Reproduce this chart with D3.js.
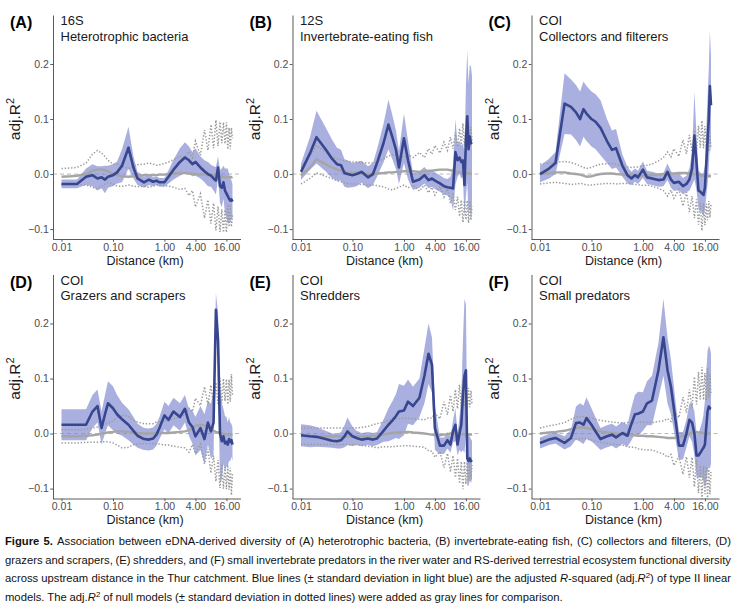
<!DOCTYPE html>
<html lang="en">
<head>
<meta charset="UTF-8">
<title>Figure 5</title>
<script src="https://d3js.org/d3.v7.min.js"></script>
<style>
  body { margin: 0; background: #fff; }
  svg { display: block; }
</style>
</head>
<body>
<script>
// upstream distance (km), shared by all six panels
var distance = [0.01, 0.015, 0.02, 0.03, 0.04, 0.05, 0.06, 0.07, 0.08,
  0.1, 0.12, 0.15, 0.2, 0.25, 0.3,
  0.4, 0.5, 0.6, 0.7, 0.8,
  1.0, 1.2, 1.5, 2, 2.5,
  3, 3.5, 4,
  5, 6, 7, 8, 9, 10, 11, 12, 13, 14, 15, 16, 17, 18, 19, 20, 21];

// (A) 16S heterotrophic bacteria
var meanA = [-0.018, -0.018, -0.018, -0.005, -0.002, -0.008, -0.006, -0.010, -0.005,
  -0.002, 0.003, 0.015, 0.048, 0.012, -0.008,
  -0.015, -0.010, -0.014, -0.012, -0.015,
  -0.015, -0.005, 0.008, 0.022, 0.030,
  0.025, 0.018, 0.022,
  0.012, 0.005, 0.000, -0.003, -0.008, -0.012, 0.012, -0.022, -0.025, -0.015, -0.030, -0.035, -0.040, -0.045, -0.048, -0.046, -0.050];
var sdA = [0.008, 0.008, 0.008, 0.015, 0.02, 0.022, 0.02, 0.025, 0.02,
  0.02, 0.02, 0.03, 0.038, 0.02, 0.012,
  0.01, 0.01, 0.008, 0.008, 0.008,
  0.008, 0.012, 0.018, 0.025, 0.028,
  0.025, 0.022, 0.025,
  0.02, 0.02, 0.022, 0.02, 0.022, 0.025, 0.02, 0.03, 0.035, 0.03, 0.04, 0.045, 0.05, 0.045, 0.04, 0.035, 0.03];
var nullA = [-0.005, -0.004, -0.003, 0.0, 0.006, 0.008, 0.008, 0.007, 0.005,
  0.0, -0.002, -0.004, -0.005, -0.004, -0.003,
  -0.002, -0.002, -0.002, -0.002, -0.001,
  -0.001, 0.0, 0.001, 0.002, 0.002,
  0.001, 0.0, 0.0,
  -0.001, 0.0, -0.002, 0.0, -0.003, -0.002, -0.004, -0.005, -0.004, -0.006, -0.005, -0.006, -0.005, -0.006, -0.005, -0.006, -0.005];
var nullSdA = [0.015, 0.015, 0.015, 0.02, 0.03, 0.035, 0.03, 0.025, 0.02,
  0.018, 0.02, 0.018, 0.015, 0.018, 0.02,
  0.02, 0.022, 0.02, 0.018, 0.018,
  0.02, 0.022, 0.025, 0.03, 0.028,
  0.04, 0.03, 0.06,
  0.035, 0.08, 0.045, 0.09, 0.05, 0.1, 0.055, 0.1, 0.06, 0.1, 0.06, 0.1, 0.05, 0.09, 0.05, 0.09, 0.07];

// (B) 12S invertebrate-eating fish
var meanB = [0.004, 0.038, 0.067, 0.045, 0.028, 0.018, 0.016, 0.002, 0.0,
  -0.002, 0.0, 0.004, -0.006, 0.0, 0.02,
  0.056, 0.09, 0.066, 0.044, 0.012,
  0.065, 0.025, -0.014, -0.01, -0.002,
  -0.011, -0.008, -0.012,
  -0.017, -0.022, -0.024, -0.025, -0.026, 0.04, 0.025, 0.03, 0.022, 0.025, -0.02, 0.06, 0.105, 0.045, 0.068, 0.056, 0.058];
var sdB = [0.015, 0.03, 0.048, 0.04, 0.035, 0.03, 0.028, 0.025, 0.025,
  0.022, 0.022, 0.02, 0.02, 0.02, 0.025,
  0.035, 0.045, 0.04, 0.035, 0.03,
  0.045, 0.035, 0.015, 0.015, 0.015,
  0.015, 0.015, 0.015,
  0.015, 0.015, 0.015, 0.02, 0.04, 0.06, 0.03, 0.03, 0.03, 0.03, 0.06, 0.1, 0.12, 0.12, 0.13, 0.14, 0.12];
var nullB = [-0.003, 0.012, 0.027, 0.018, 0.012, 0.008, 0.006, 0.004, 0.003,
  0.002, 0.002, 0.001, 0.0, 0.0, 0.001,
  0.002, 0.003, 0.003, 0.004, 0.004,
  0.005, 0.005, 0.005, 0.004, 0.005,
  0.006, 0.006, 0.007,
  0.008, 0.008, 0.008, 0.007, 0.006, 0.005, 0.004, 0.003, 0.003, 0.002, 0.002, 0.002, 0.002, 0.001, 0.001, 0.001, 0.001];
var nullSdB = [0.015, 0.02, 0.025, 0.022, 0.02, 0.02, 0.02, 0.02, 0.02,
  0.02, 0.02, 0.02, 0.02, 0.02, 0.022,
  0.025, 0.03, 0.032, 0.03, 0.028,
  0.025, 0.03, 0.025, 0.035, 0.025,
  0.04, 0.03, 0.045,
  0.03, 0.05, 0.035, 0.06, 0.04, 0.07, 0.045, 0.08, 0.05, 0.09, 0.05, 0.085, 0.05, 0.09, 0.05, 0.085, 0.06];

// (C) COI collectors and filterers
var meanC = [0.0, 0.01, 0.02, 0.128, 0.122, 0.112, 0.1, 0.118, 0.11,
  0.1, 0.095, 0.084, 0.06, 0.044, 0.047,
  0.015, -0.002, -0.008, -0.002, -0.006,
  0.008, -0.006, -0.008, -0.011, -0.01,
  0.004, -0.01, -0.016,
  -0.014, -0.022, -0.018, -0.01, 0.01, 0.07, 0.02, -0.03, -0.032, -0.035, -0.038, -0.025, 0.02, 0.06, 0.1, 0.16, 0.125];
var sdC = [0.015, 0.018, 0.02, 0.055, 0.05, 0.05, 0.05, 0.05, 0.05,
  0.05, 0.05, 0.05, 0.04, 0.035, 0.035,
  0.02, 0.015, 0.012, 0.012, 0.012,
  0.015, 0.012, 0.012, 0.012, 0.012,
  0.015, 0.015, 0.015,
  0.015, 0.015, 0.015, 0.02, 0.03, 0.08, 0.05, 0.035, 0.035, 0.035, 0.04, 0.04, 0.06, 0.08, 0.09, 0.1, 0.09];
var nullC = [0.0, 0.002, 0.003, 0.003, 0.001, 0.0, -0.001, -0.003, -0.005,
  -0.004, -0.002, 0.0, 0.001, 0.001, 0.0,
  -0.001, -0.002, -0.003, -0.003, -0.003,
  -0.003, -0.002, -0.002, -0.001, 0.0,
  0.0, 0.001, 0.001,
  0.002, 0.002, 0.002, 0.001, 0.0, 0.0, -0.001, -0.002, -0.002, -0.003, -0.003, -0.003, -0.004, -0.004, -0.004, -0.004, -0.004];
var nullSdC = [0.018, 0.018, 0.018, 0.02, 0.02, 0.018, 0.016, 0.015, 0.015,
  0.016, 0.017, 0.018, 0.018, 0.018, 0.018,
  0.016, 0.015, 0.015, 0.016, 0.016,
  0.018, 0.018, 0.02, 0.025, 0.03,
  0.04, 0.03, 0.045,
  0.03, 0.06, 0.035, 0.07, 0.04, 0.08, 0.045, 0.09, 0.05, 0.1, 0.05, 0.09, 0.05, 0.08, 0.045, 0.075, 0.05];

// (D) COI grazers and scrapers
var meanD = [0.016, 0.016, 0.016, 0.016, 0.04, 0.05, 0.01, 0.035, 0.055,
  0.046, 0.035, 0.026, 0.016, 0.005, -0.004,
  -0.01, -0.011, -0.009, -0.002, 0.01,
  0.033, 0.025, 0.04, 0.03, 0.045,
  0.02, 0.012, -0.005,
  0.01, -0.01, 0.02, 0.004, 0.02, 0.225, 0.17, 0.0, -0.014, -0.005, -0.018, -0.015, -0.02, -0.01, -0.015, -0.012, -0.02];
var sdD = [0.028, 0.028, 0.028, 0.028, 0.03, 0.03, 0.03, 0.035, 0.04,
  0.04, 0.035, 0.03, 0.028, 0.025, 0.022,
  0.02, 0.02, 0.02, 0.02, 0.02,
  0.025, 0.025, 0.025, 0.025, 0.025,
  0.025, 0.03, 0.035,
  0.04, 0.045, 0.04, 0.05, 0.06, 0.03, 0.05, 0.09, 0.07, 0.05, 0.05, 0.045, 0.04, 0.04, 0.035, 0.03, 0.03];
var nullD = [-0.005, -0.005, -0.005, -0.004, -0.003, -0.002, 0.0, 0.001, 0.002,
  0.003, 0.004, 0.004, 0.003, 0.002, 0.001,
  0.0, 0.0, 0.0, 0.001, 0.001,
  0.001, 0.001, 0.002, 0.003, 0.004,
  0.006, 0.01, 0.014,
  0.016, 0.015, 0.012, 0.008, 0.005, 0.003, 0.002, 0.001, 0.0, 0.0, -0.001, -0.001, -0.002, -0.002, -0.002, -0.002, -0.002];
var nullSdD = [0.012, 0.012, 0.012, 0.012, 0.013, 0.014, 0.015, 0.016, 0.017,
  0.02, 0.025, 0.03, 0.028, 0.022, 0.02,
  0.018, 0.018, 0.018, 0.02, 0.02,
  0.022, 0.022, 0.025, 0.028, 0.03,
  0.04, 0.03, 0.05,
  0.035, 0.07, 0.04, 0.08, 0.045, 0.09, 0.05, 0.1, 0.055, 0.1, 0.06, 0.1, 0.055, 0.1, 0.06, 0.11, 0.07];

// (E) COI shredders
var meanE = [-0.003, -0.005, -0.006, -0.01, -0.013, -0.014, -0.012, -0.005, 0.004,
  -0.005, -0.008, -0.011, -0.009, -0.011, -0.009,
  0.005, 0.016, 0.024, 0.032, 0.04,
  0.042, 0.058, 0.05, 0.065, 0.105,
  0.145, 0.125, 0.01,
  -0.022, -0.022, -0.012, -0.02, 0.004, 0.016, -0.02, 0.0, 0.016, 0.07, 0.105, 0.115, -0.045, -0.05, -0.045, -0.05, -0.048];
var sdE = [0.02, 0.02, 0.018, 0.015, 0.013, 0.013, 0.015, 0.02, 0.025,
  0.018, 0.013, 0.012, 0.012, 0.012, 0.012,
  0.02, 0.03, 0.035, 0.04, 0.05,
  0.045, 0.04, 0.035, 0.035, 0.05,
  0.055, 0.05, 0.04,
  0.015, 0.015, 0.015, 0.015, 0.02, 0.03, 0.02, 0.03, 0.05, 0.1, 0.14, 0.12, 0.05, 0.045, 0.04, 0.04, 0.035];
var nullE = [-0.005, -0.005, -0.005, -0.005, -0.005, -0.005, -0.005, -0.005, -0.005,
  -0.005, -0.005, -0.005, -0.005, -0.004, -0.004,
  -0.002, 0.0, 0.001, 0.002, 0.002,
  0.003, 0.003, 0.002, 0.001, 0.0,
  -0.001, -0.002, -0.003,
  -0.003, -0.002, -0.001, 0.0, 0.0, 0.0, 0.0, -0.001, -0.001, -0.001, -0.001, -0.002, -0.002, -0.002, -0.002, -0.002, -0.002];
var nullSdE = [0.015, 0.015, 0.015, 0.015, 0.015, 0.015, 0.015, 0.015, 0.015,
  0.015, 0.015, 0.016, 0.018, 0.02, 0.022,
  0.022, 0.024, 0.025, 0.025, 0.025,
  0.025, 0.025, 0.025, 0.025, 0.025,
  0.03, 0.03, 0.04,
  0.03, 0.06, 0.035, 0.07, 0.04, 0.08, 0.045, 0.09, 0.05, 0.1, 0.05, 0.09, 0.05, 0.085, 0.05, 0.08, 0.055];

// (F) COI small predators
var meanF = [-0.017, -0.011, -0.008, -0.017, -0.008, 0.019, 0.02, 0.016, 0.028,
  0.016, 0.004, -0.01, -0.005, -0.002, -0.007,
  0.001, -0.004, 0.018, 0.035, 0.036,
  0.04, 0.055, 0.06, 0.115, 0.175,
  0.115, 0.085, 0.045,
  -0.022, -0.022, 0.0, 0.025, 0.02, 0.0, -0.04, -0.04, -0.035, -0.03, -0.026, -0.02, 0.012, 0.04, 0.049, 0.046, 0.045];
var sdF = [0.01, 0.01, 0.01, 0.012, 0.015, 0.03, 0.035, 0.035, 0.038,
  0.03, 0.025, 0.02, 0.02, 0.02, 0.02,
  0.02, 0.02, 0.03, 0.035, 0.04,
  0.035, 0.04, 0.045, 0.05, 0.07,
  0.06, 0.05, 0.04,
  0.025, 0.025, 0.025, 0.03, 0.035, 0.04, 0.04, 0.04, 0.045, 0.05, 0.06, 0.08, 0.1, 0.11, 0.11, 0.11, 0.1];
var nullF = [0.0, 0.002, 0.003, 0.005, 0.008, 0.01, 0.011, 0.011, 0.01,
  0.008, 0.006, 0.004, 0.002, 0.001, 0.0,
  -0.001, -0.002, -0.003, -0.003, -0.004,
  -0.004, -0.005, -0.005, -0.006, -0.007,
  -0.008, -0.008, -0.008,
  -0.006, -0.004, -0.002, 0.0, 0.002, 0.003, 0.003, 0.002, 0.002, 0.001, 0.001, 0.0, 0.0, 0.0, 0.0, 0.0, 0.0];
var nullSdF = [0.01, 0.012, 0.013, 0.015, 0.018, 0.02, 0.02, 0.02, 0.02,
  0.02, 0.02, 0.02, 0.02, 0.02, 0.02,
  0.02, 0.022, 0.022, 0.022, 0.024,
  0.025, 0.025, 0.025, 0.028, 0.03,
  0.035, 0.03, 0.05,
  0.035, 0.07, 0.04, 0.08, 0.045, 0.1, 0.05, 0.11, 0.06, 0.12, 0.06, 0.11, 0.06, 0.12, 0.065, 0.11, 0.07];

// panel labels
var panelTags = ["(A)", "(B)", "(C)", "(D)", "(E)", "(F)"];
var markers = ["16S", "12S", "COI", "COI", "COI", "COI"];
var groups = ["Heterotrophic bacteria", "Invertebrate-eating fish", "Collectors and filterers",
  "Grazers and scrapers", "Shredders", "Small predators"];

// axis ticks
var xTicks = [0.01, 0.1, 1, 4, 16];
var yTicks = [-0.1, 0, 0.1, 0.2];

// caption (** bold, _ italic, ^ superscript)
var captionLines = [
  "**Figure 5.** Association between eDNA-derived diversity of (A) heterotrophic bacteria, (B) invertebrate-eating fish, (C) collectors and filterers, (D)",
  "grazers and scrapers, (E) shredders, and (F) small invertebrate predators in the river water and RS-derived terrestrial ecosystem functional diversity",
  "across upstream distance in the Thur catchment. Blue lines (\u00b1 standard deviation in light blue) are the adjusted _R_-squared (adj._R_^2) of type II linear",
  "models. The adj._R_^2 of null models (\u00b1 standard deviation in dotted lines) were added as gray lines for comparison."
];

var panels = [
  { mean: meanA, sd: sdA, nul: nullA, nsd: nullSdA },
  { mean: meanB, sd: sdB, nul: nullB, nsd: nullSdB },
  { mean: meanC, sd: sdC, nul: nullC, nsd: nullSdC },
  { mean: meanD, sd: sdD, nul: nullD, nsd: nullSdD },
  { mean: meanE, sd: sdE, nul: nullE, nsd: nullSdE },
  { mean: meanF, sd: sdF, nul: nullF, nsd: nullSdF }
];

// layout
var width = 737, height = 612;
var colX = [53, 292.5, 531.5];
var rowTop = [15, 274.5];
var plotW = 188, plotH = 224;
var font = "'Liberation Sans', Arial, sans-serif";

var svg = d3.select("body").append("svg")
    .attr("width", width)
    .attr("height", height);

svg.append("defs").append("clipPath").attr("id", "clip")
  .append("rect").attr("width", plotW).attr("height", plotH);

var x = d3.scaleLog().domain([0.01, 21]).range([8.5, 179.5]);
var y = d3.scaleLinear().domain([-0.118, 0.289]).range([plotH, 0]);

var area = d3.area()
    .x(function(d) { return x(d.km); })
    .y0(function(d) { return y(d.m - d.sd); })
    .y1(function(d) { return y(d.m + d.sd); });
var line = function(acc) {
  return d3.line().x(function(d) { return x(d.km); }).y(function(d) { return y(acc(d)); });
};

panels.forEach(function(p, i) {
  var col = i % 3, row = Math.floor(i / 3);
  var g = svg.append("g")
      .attr("transform", "translate(" + colX[col] + "," + rowTop[row] + ")");

  var rows = distance.map(function(km, j) {
    return { km: km, m: p.mean[j], sd: p.sd[j], n: p.nul[j], nsd: p.nsd[j] };
  });

  // zero reference
  g.append("line")
      .attr("x1", 0).attr("x2", plotW)
      .attr("y1", y(0)).attr("y2", y(0))
      .attr("stroke", "#b8b8b8")
      .attr("stroke-dasharray", "4,3");

  var plot = g.append("g").attr("clip-path", "url(#clip)");

  plot.append("path").datum(rows)
      .attr("d", area)
      .attr("fill", "#7c87cf")
      .attr("fill-opacity", 0.66);

  [function(d) { return d.n + d.nsd; }, function(d) { return d.n - d.nsd; }].forEach(function(acc) {
    plot.append("path").datum(rows)
        .attr("d", line(acc))
        .attr("fill", "none")
        .attr("stroke", "#9c9c9c")
        .attr("stroke-width", 1.5)
        .attr("stroke-dasharray", "1.4,1.8");
  });

  plot.append("path").datum(rows)
      .attr("d", line(function(d) { return d.n; }))
      .attr("fill", "none")
      .attr("stroke", "#a5a5a5")
      .attr("stroke-width", 2.4);

  plot.append("path").datum(rows)
      .attr("d", line(function(d) { return d.m; }))
      .attr("fill", "none")
      .attr("stroke", "#38468f")
      .attr("stroke-width", 2.6)
      .attr("stroke-linejoin", "round");

  // axes
  var yAxis = g.append("g")
      .call(d3.axisLeft(y).tickValues(yTicks).tickFormat(d3.format(".1f"))
        .tickSize(2.75).tickSizeOuter(0).tickPadding(1.5));
  var xAxis = g.append("g")
      .attr("transform", "translate(0," + plotH + ")")
      .call(d3.axisBottom(x).tickValues(xTicks).tickFormat(d3.format(".2f"))
        .tickSize(2.75).tickPadding(1.5));
  xAxis.select(".domain").remove();
  g.append("line")
      .attr("x1", 0).attr("x2", plotW)
      .attr("y1", plotH + 0.5).attr("y2", plotH + 0.5)
      .attr("stroke", "#5a5a5a");

  [yAxis, xAxis].forEach(function(a) {
    a.selectAll(".domain, .tick line").attr("stroke", "#5a5a5a");
    a.selectAll("text")
        .attr("fill", "#4d4d4d")
        .style("font-family", font)
        .style("font-size", "10.5px");
  });

  // titles
  g.append("text")
      .attr("x", plotW / 2 - 2).attr("y", plotH + 25.5)
      .attr("text-anchor", "middle")
      .style("font-family", font).style("font-size", "12.5px")
      .attr("fill", "#1a1a1a")
      .text("Distance (km)");

  var yt = g.append("text")
      .attr("transform", "translate(-33," + 104 + ") rotate(-90)")
      .attr("text-anchor", "middle")
      .style("font-family", font).style("font-size", "15.5px")
      .attr("fill", "#1a1a1a");
  yt.append("tspan").text("adj.R");
  yt.append("tspan").attr("dy", "-6").style("font-size", "11px").text("2");

  g.append("text")
      .attr("x", -43).attr("y", 13)
      .style("font-family", font).style("font-size", "16px").style("font-weight", "bold")
      .attr("fill", "#000")
      .text(panelTags[i]);

  g.append("text")
      .attr("x", 7.5).attr("y", 10)
      .style("font-family", font).style("font-size", "13px")
      .attr("fill", "#1a1a1a")
      .text(markers[i]);
  g.append("text")
      .attr("x", 7.5).attr("y", 25.5)
      .style("font-family", font).style("font-size", "13px")
      .attr("fill", "#1a1a1a")
      .text(groups[i]);
});

// caption: one text per word, justified across the column
var capFont = "'Liberation Sans Narrow', 'Liberation Sans', Arial, sans-serif";
var capLeft = 5, capWidth = 726;
var capBase = [545, 563.7, 582.3, 601];
var cap = svg.append("g")
    .style("font-family", capFont).style("font-size", "12px")
    .attr("fill", "#111");

var capWords = captionLines.map(function(str, li) {
  var bold = false, ital = false;
  return str.split(" ").map(function(word) {
    var t = cap.append("text").attr("y", capBase[li]);
    var buf = "", afterSup = false, k = 0;
    function flush() {
      if (!buf) return;
      var ts = t.append("tspan")
          .style("font-weight", bold ? "bold" : "normal")
          .style("font-style", ital ? "italic" : "normal")
          .text(buf);
      if (afterSup) { ts.attr("dy", 4); afterSup = false; }
      buf = "";
    }
    while (k < word.length) {
      if (word.substr(k, 2) === "**") { flush(); bold = !bold; k += 2; }
      else if (word[k] === "_") { flush(); ital = !ital; k += 1; }
      else if (word[k] === "^") {
        flush();
        t.append("tspan").attr("dy", -4).style("font-size", "0.7em").text(word[k + 1]);
        afterSup = true;
        k += 2;
      }
      else { buf += word[k]; k += 1; }
    }
    flush();
    return t;
  });
});

function widths(words) {
  return words.map(function(t) { return t.node().getComputedTextLength(); });
}

// shrink the caption font if the lines would not fit
var scale = 1;
capWords.slice(0, 3).forEach(function(words) {
  var need = capWidth - (words.length - 1) * 2.6;
  scale = Math.min(scale, need / d3.sum(widths(words)));
});
cap.style("font-size", (12 * scale).toFixed(2) + "px");

capWords.forEach(function(words, li) {
  var w = widths(words);
  var last = li === capWords.length - 1;
  var gap = last ? 3.1 * scale : (capWidth - d3.sum(w)) / (words.length - 1);
  var pos = capLeft;
  words.forEach(function(t, j) {
    t.attr("x", pos);
    pos += w[j] + gap;
  });
});
</script>
</body>
</html>
